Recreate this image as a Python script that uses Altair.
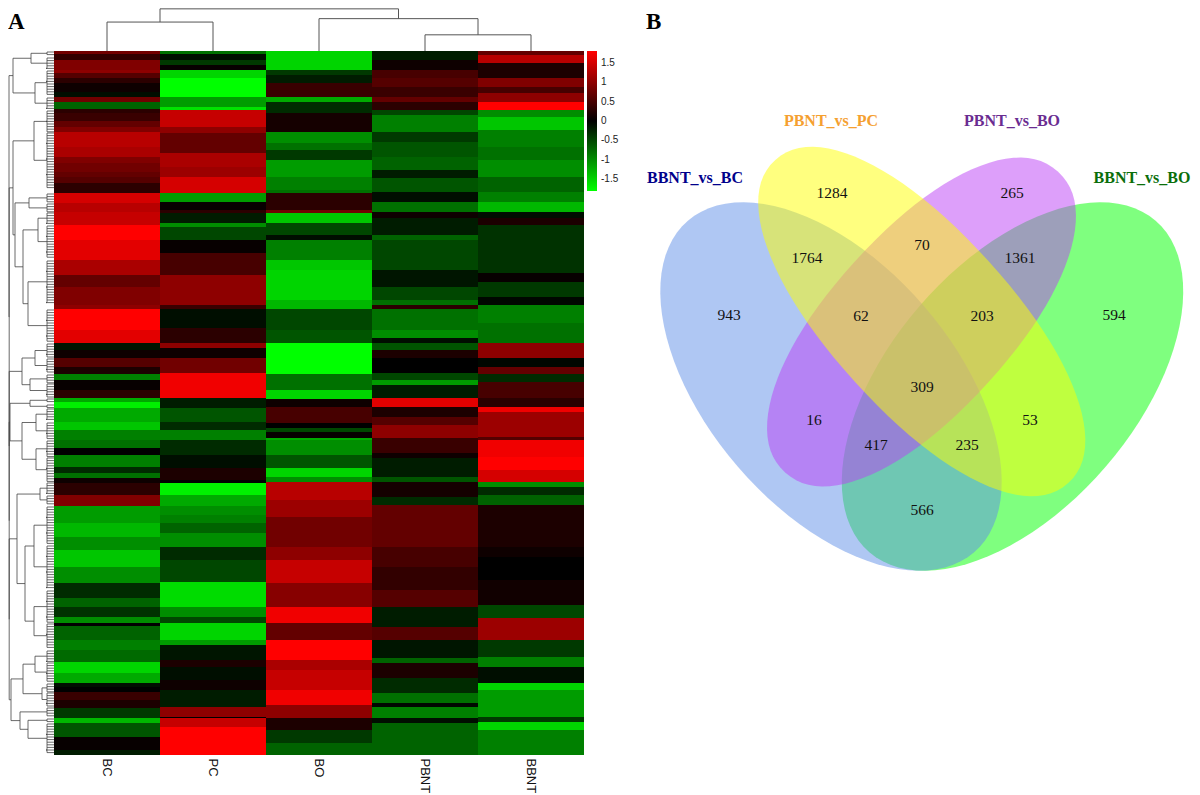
import altair as alt
import pandas as pd
import math

SAMPLES = ["BC", "PC", "BO", "PBNT", "BBNT"]
TOP, BOTTOM = 51, 755

BC_y = [51,54,60,70,73,78,83,92,97,102,109,113,121,127,132,147,157,163,172,177,183,193,203,212,225,240,260,275,287,293,305,309,330,343,350,358,367,374,380,390,398,402,408,422,430,440,448,455,467,473,478,483,495,506,523,537,550,567,583,598,607,617,623,626,640,650,662,673,683,687,692,700,708,718,723,737,750]
BC_v = [0.8,0.35,0.9,1.0,0.6,0.3,0.1,-0.1,0.8,-0.7,0.3,0.4,0.7,0.9,1.3,1.2,0.9,0.8,0.7,0.6,0.3,1.5,1.3,1.4,1.8,1.6,1.2,0.7,0.9,0.9,1.0,1.8,1.6,-0.15,0.1,0.6,0.2,-0.9,0.05,0.3,-1.2,-1.7,-1.2,-1.4,-0.9,-0.8,0.0,-0.9,-0.3,-0.8,0.1,0.3,0.9,-1.1,-1.3,-1.0,-1.4,-1.0,-0.3,-0.7,-0.35,-1.0,0.0,-0.7,-0.9,-0.75,-1.5,-1.2,-0.1,0.0,0.4,0.2,-0.4,-1.3,-0.6,0.05,-0.2]

PC_y = [51,54,60,65,70,78,97,107,110,127,133,153,167,177,193,202,210,213,223,227,240,253,275,305,309,328,343,348,358,373,398,408,422,430,440,455,468,480,483,495,506,515,523,533,547,560,582,607,617,623,640,645,660,667,680,690,707,717,718,727]
PC_v = [-0.8,-0.1,-0.4,0.05,-1.5,-1.8,-1.1,-1.6,1.4,1.0,0.7,1.2,1.1,1.5,-1.1,0.05,0.3,-0.2,-1.0,-0.5,0.05,0.5,1.0,0.4,-0.1,0.3,1.0,0.1,0.8,1.7,-0.2,-0.6,-0.3,-0.9,-0.3,-0.1,0.2,0.0,-1.7,-1.2,-1.0,-0.9,-0.7,-1.0,-0.3,-0.5,-1.55,-1.0,-0.5,-1.5,-1.1,-0.15,0.2,-0.1,0.1,-0.2,1.0,0.0,1.4,1.8]

BO_y = [51,70,75,83,97,102,113,132,143,150,160,177,190,193,210,213,223,235,240,260,270,300,309,330,343,374,390,399,407,423,428,432,438,440,455,468,477,482,500,517,547,560,583,607,623,640,660,670,690,705,718,730,743]
BO_v = [-1.5,-0.4,-0.2,0.4,-1.2,-0.3,0.15,-1.0,-0.8,-0.4,-1.1,-0.9,-0.8,0.3,0.8,-1.4,-0.5,-0.1,-0.9,-1.4,-1.5,-1.3,-0.5,-0.6,-1.8,-0.8,-1.5,0.1,0.5,0.0,-0.5,0.05,-1.2,-1.0,-0.6,-1.5,-1.0,1.3,1.1,0.8,1.0,1.4,0.95,1.7,0.7,1.8,1.2,1.4,1.7,1.0,0.2,-0.4,-0.7]

PBNT_y = [51,60,70,78,87,97,102,110,115,132,142,157,170,178,192,202,212,218,235,240,270,287,300,305,309,330,338,343,350,358,373,380,385,398,407,417,425,438,453,458,477,482,497,505,547,567,590,607,627,640,658,663,678,693,703,707,718,723]
PBNT_v = [-0.2,0.1,0.5,0.6,0.4,0.7,0.3,-0.5,-0.9,-0.4,-0.6,-0.7,-0.2,-0.6,-0.1,-0.8,0.1,-0.2,-0.7,-0.5,-0.15,-0.5,-0.8,0.3,-0.8,-1.0,-0.1,-0.6,0.2,0.0,-0.5,-1.1,-0.2,1.6,0.2,0.6,1.0,0.4,0.1,-0.2,-0.6,0.15,-0.3,0.7,0.5,0.35,0.6,-0.2,0.6,-0.15,-0.7,0.2,-0.3,-0.8,-0.05,-0.9,-0.1,-0.7]

BBNT_y = [51,55,63,78,87,93,102,110,117,130,147,160,177,192,202,212,218,225,273,282,297,305,323,343,358,367,374,382,398,407,412,437,440,457,470,482,487,495,505,547,557,580,605,618,640,657,667,683,690,717,722,730]
BBNT_v = [0.7,1.3,0.2,0.9,0.5,1.0,1.8,-1.0,-1.4,-0.9,-0.8,-1.0,-0.7,-0.9,-1.3,-0.1,0.2,-0.35,0.05,-0.4,-0.05,-0.9,-0.8,1.0,-0.05,0.7,-0.3,0.5,0.3,1.7,1.1,0.6,1.7,1.8,1.5,-1.0,-0.3,-0.7,0.2,0.1,0.0,0.12,-0.5,1.1,-0.4,-0.9,-0.1,-1.5,-1.1,-0.4,-1.5,-0.9]

COLUMNS = {"BC": (BC_y, BC_v), "PC": (PC_y, PC_v), "BO": (BO_y, BO_v),
           "PBNT": (PBNT_y, PBNT_v), "BBNT": (BBNT_y, BBNT_v)}

TOP_MERGES = [(0.5, 1.5, 34, 0, 0), (3.5, 4.5, 19, 0, 0), (2.5, 4.0, 38, 0, 19), (1.0, 3.25, 49.5, 34, 38)]

VENN_NAMES = ["BBNT_vs_BO", "BBNT_vs_BC", "PBNT_vs_BO", "PBNT_vs_PC"]
VENN_CX = [1013.5, 832, 922.5, 922.75]
VENN_CY = [386.5, 386.5, 322, 321.5]
VENN_A = [219, 219, 203, 218]
VENN_B = [123, 123, 90, 90]
VENN_N = [2.0, 2.0, 2.15, 2.15]
VENN_ANG = [-49.2, 49.2, -47.8, 47.8]
VENN_FILL = ["#00ff00", "#6090e8", "#bb40f5", "#ffff00"]

COUNTS = ["1284","265","1764","70","1361","943","62","203","594","309","16","53","417","235","566"]
COUNT_X = [833,1013,808,923,1021,730,862,983,1115,923,815,1031,877,968,923]
COUNT_Y = [193,193,258,245,258,315,316,316,315,387,420,420,445,445,510]

LABELS = ["BBNT_vs_BC", "PBNT_vs_PC", "PBNT_vs_BO", "BBNT_vs_BO"]
LABEL_X = [696, 832, 1013, 1143]
LABEL_Y = [178, 121, 121, 178]
LABEL_C = ["#00008b", "#f5a030", "#6a2c91", "#0a6e0a"]

rows = []
for name, (ys, vs) in COLUMNS.items():
    ends = ys[1:] + [BOTTOM]
    for a, b, v in zip(ys, ends, vs):
        rows.append({"sample": name, "start": a, "end": b, "value": v})
heat_df = pd.DataFrame(rows)

heat = alt.Chart(heat_df).mark_rect(stroke=None).encode(
    x=alt.X("sample:N", sort=SAMPLES, scale=alt.Scale(domain=SAMPLES, paddingInner=0, paddingOuter=0),
            axis=alt.Axis(title=None, labelAngle=90, domain=False, ticks=False, labelFontSize=13,
                          labelFont="Liberation Sans", labelColor="#111", labelPadding=3, grid=False)),
    y=alt.Y("start:Q", scale=alt.Scale(domain=[BOTTOM, TOP], nice=False, zero=False), axis=None),
    y2="end:Q",
    color=alt.Color("value:Q",
                    scale=alt.Scale(domain=[-1.8, 0, 1.8], range=["#00ff00", "#000000", "#ff0000"],
                                    clamp=True, interpolate="rgb"),
                    legend=alt.Legend(title=None, orient="none", legendX=579, legendY=43, gradientLength=140,
                                      gradientThickness=10, values=[-1.5, -1, -0.5, 0, 0.5, 1, 1.5],
                                      labelFontSize=10, labelFont="Liberation Sans", labelColor="#222",
                                      labelOffset=4, gradientStrokeWidth=0, labelExpr="'' + datum.value")),
).properties(width=530, height=704)

LEAF_STEP = 2.6
segs = []
def add(x1, x2, y1, y2):
    segs.append({"x": x1, "x2": x2, "y": y1, "y2": y2})

def comb(y0, y1):
    return ("comb", y0, y1)

def draw(node):
    if node[0] == "comb":
        _, y0, y1 = node
        y = y0 + 1
        i = 0
        xs = (47, 50, 48, 51, 46, 49)
        top = y
        while y < y1:
            add(xs[i % 6], 54, y, y)
            add(47, xs[i % 6], y, y)
            last = y
            y += LEAF_STEP
            i += 1
        add(47, 47, top, last)
        return 47, (top + last) / 2
    x, kids = node
    pts = [draw(k) for k in kids]
    ys = [p[1] for p in pts]
    for px, py in pts:
        add(x, px, py, py)
    add(x, x, min(ys), max(ys))
    return x, sum(ys) / len(ys)

A1 = (13, [(31, [comb(51, 57), comb(57, 70)]), (35, [comb(70, 95), comb(97, 109)])])
A2 = (13, [(34, [comb(110, 132), comb(132, 190)]),
           (15, [(29, [comb(193, 203), comb(203, 212)]),
                 (23, [(38, [comb(212, 225), comb(225, 258)]),
                       (28, [comb(260, 305), comb(309, 343)])])])])
C = (22, [(35, [comb(343, 358), comb(358, 374)]), (30, [comb(374, 383), comb(383, 398)])])
E = (10, [(30, [comb(398, 404), comb(404, 408)]),
          (22, [(36, [comb(408, 422), comb(422, 440)]), (36, [comb(440, 457), comb(457, 482)])])])
F = (17, [(40, [comb(482, 495), comb(495, 506)]),
          (25, [(34, [comb(506, 545), comb(545, 590)]), (34, [comb(590, 623), comb(623, 650)])])])
H = (11, [(23, [(35, [comb(650, 662), comb(662, 683)]), (42, [comb(683, 692), comb(692, 707)])]),
          (20, [comb(707, 718), (28, [comb(718, 723), comb(723, 755)])])])
ROOT = (9, [A1, (9.2, [A2, (9.2, [C, (9.2, [E, (9.2, [F, H])])])])])
draw(ROOT)

left_dendro = alt.Chart(pd.DataFrame(segs)).mark_rule(color="#444444", strokeWidth=0.8).encode(
    x=alt.X("x:Q", scale=alt.Scale(domain=[8, 54], nice=False, zero=False), axis=None),
    x2="x2:Q",
    y=alt.Y("y:Q", scale=alt.Scale(domain=[BOTTOM, TOP], nice=False, zero=False), axis=None),
    y2="y2:Q",
).properties(width=46, height=704)

tsegs = []
for l, r, h, hl, hr in TOP_MERGES:
    tsegs += [{"x": l, "x2": r, "y": h, "y2": h},
              {"x": l, "x2": l, "y": hl, "y2": h},
              {"x": r, "x2": r, "y": hr, "y2": h}]
top_dendro = alt.Chart(pd.DataFrame(tsegs)).mark_rule(color="#555555", strokeWidth=1).encode(
    x=alt.X("x:Q", scale=alt.Scale(domain=[0, 5], nice=False, zero=False), axis=None),
    x2="x2:Q",
    y=alt.Y("y:Q", scale=alt.Scale(domain=[0, 50.5], nice=False, zero=False), axis=None),
    y2="y2:Q",
).properties(width=530, height=43)

letter_a = alt.Chart(pd.DataFrame({"t": ["A"], "x": [8], "y": [29]})).mark_text(
    font="Liberation Serif", fontWeight="bold", fontSize=23, align="left", baseline="alphabetic", color="black"
).encode(
    x=alt.X("x:Q", scale=alt.Scale(domain=[8, 54], nice=False, zero=False), axis=None),
    y=alt.Y("y:Q", scale=alt.Scale(domain=[51, 8], nice=False, zero=False), axis=None),
    text="t:N",
).properties(width=46, height=43)

VX0 = 585
VX1 = 1191
vx = alt.X("x:Q", scale=alt.Scale(domain=[VX0, VX1], nice=False, zero=False), axis=None)
vy = alt.Y("y:Q", scale=alt.Scale(domain=[787, 8], nice=False, zero=False), axis=None)

def blob_path(a, b, n, steps=96):
    pts = []
    for i in range(steps):
        t = 2 * math.pi * i / steps
        c, s = math.cos(t), math.sin(t)
        px = a * math.copysign(abs(c) ** (2 / n), c)
        py = b * math.copysign(abs(s) ** (2 / n), s)
        pts.append(f"{px:.2f},{py:.2f}")
    return "M" + "L".join(pts) + "Z"

layers = []
for name, cx, cy, a, b, n, ang, c in zip(VENN_NAMES, VENN_CX, VENN_CY, VENN_A, VENN_B, VENN_N, VENN_ANG, VENN_FILL):
    layers.append(
        alt.Chart(pd.DataFrame({"x": [cx], "y": [cy], "name": [name]})).mark_point(
            shape=blob_path(a, b, n), size=4, angle=(ang + 360) % 360, filled=True, color=c,
            opacity=0.5, strokeWidth=0
        ).encode(x=vx, y=vy)
    )
layers.append(
    alt.Chart(pd.DataFrame({"x": COUNT_X, "y": COUNT_Y, "t": COUNTS})).mark_text(
        font="Liberation Serif", fontSize=15.5, color="#111"
    ).encode(x=vx, y=vy, text="t:N")
)
layers.append(
    alt.Chart(pd.DataFrame({"x": LABEL_X, "y": LABEL_Y, "t": LABELS, "c": LABEL_C})).mark_text(
        font="Liberation Serif", fontSize=16, fontWeight="bold"
    ).encode(x=vx, y=vy, text="t:N", color=alt.Color("c:N", scale=None))
)
layers.append(
    alt.Chart(pd.DataFrame({"x": [647], "y": [29], "t": ["B"]})).mark_text(
        font="Liberation Serif", fontSize=23, fontWeight="bold", align="left", baseline="alphabetic", color="black"
    ).encode(x=vx, y=vy, text="t:N")
)
venn = alt.layer(*layers).properties(width=VX1 - VX0, height=779)

left = alt.concat(letter_a, top_dendro, left_dendro, heat, columns=2, spacing=0, bounds="flush")
chart = alt.hconcat(left, venn, spacing=0).properties(padding=0).configure_view(stroke=None)
chart.save("out.html", embed_options={"renderer": "svg", "actions": False})
